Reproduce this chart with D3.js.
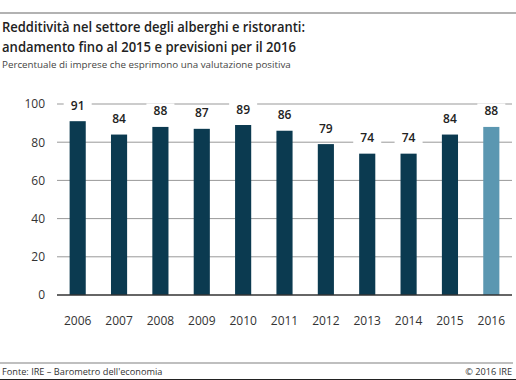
<!DOCTYPE html>
<html><head><meta charset="utf-8">
<script src="https://cdn.jsdelivr.net/npm/d3@7"></script>
<style>body{margin:0;background:#fff}svg{display:block}</style>
</head><body>
<svg id="c" width="516" height="380"></svg>
<script>
const years = ["2006","2007","2008","2009","2010","2011","2012","2013","2014","2015","2016"];
const values = [91,84,88,87,89,86,79,74,74,84,88];
const forecast = [false,false,false,false,false,false,false,false,false,false,true];
const yTicks = [0,20,40,60,80,100];
const title1 = "Redditività nel settore degli alberghi e ristoranti:";
const title2 = "andamento fino al 2015 e previsioni per il 2016";
const subtitle = "Percentuale di imprese che esprimono una valutazione positiva";
const source = "Fonte: IRE – Barometro dell'economia";
const copyright = "© 2016 IRE";

const svg = d3.select("#c");
const font = "'Open Sans', sans-serif";

svg.append("line").attr("x1",0).attr("x2",516).attr("y1",13).attr("y2",13).attr("stroke","#999").attr("stroke-width",1.5);
svg.append("text").attr("x",2).attr("y",32).text(title1).attr("font-family",font).attr("font-weight",600).attr("font-size",14.5).attr("fill","#222")
  .attr("textLength",303).attr("lengthAdjust","spacingAndGlyphs");
svg.append("text").attr("x",2).attr("y",52).text(title2).attr("font-family",font).attr("font-weight",600).attr("font-size",14.5).attr("fill","#222")
  .attr("textLength",294).attr("lengthAdjust","spacingAndGlyphs");
svg.append("text").attr("x",2).attr("y",68).text(subtitle).attr("font-family",font).attr("font-size",9.8).attr("fill","#444");

const x = d3.scaleBand().domain(years).range([57,512]).paddingInner(0.61).paddingOuter(0.305);
const y = d3.scaleLinear().domain([0,100]).range([295,104]);

const g = svg.append("g");
const yAxis = d3.axisLeft(y).tickValues(yTicks).tickSize(0).tickPadding(12);
const ya = g.append("g").attr("transform","translate(57,0)").call(yAxis);
ya.select(".domain").remove();
ya.selectAll("text").attr("font-family",font).attr("font-size",12).attr("fill","#333");

g.selectAll("line.grid").data(yTicks.filter(d=>d>0)).join("line").attr("class","grid")
 .attr("x1",57).attr("x2",512).attr("y1",d=>y(d)).attr("y2",d=>y(d)).attr("stroke","#999").attr("stroke-width",1);

g.selectAll("rect.bar").data(values).join("rect").attr("class","bar")
 .attr("x",(d,i)=>x(years[i])).attr("width",x.bandwidth())
 .attr("y",d=>y(d)).attr("height",d=>y(0)-y(d))
 .attr("fill",(d,i)=>forecast[i]?"#5b97b1":"#0b3a50");

g.append("line").attr("x1",57).attr("x2",512).attr("y1",y(0)).attr("y2",y(0)).attr("stroke","#333").attr("stroke-width",1.5);

const lbl = g.selectAll("g.lbl").data(values).join("g").attr("class","lbl")
 .attr("transform",(d,i)=>`translate(${x(years[i])+x.bandwidth()/2},${y(d)-11.5})`);
lbl.append("rect").attr("x",-14).attr("width",28).attr("y",-12).attr("height",16).attr("fill","#fff");
lbl.append("text").text(d=>d).attr("text-anchor","middle")
 .attr("font-family",font).attr("font-weight",600).attr("font-size",12).attr("fill","#222");

const xAxis = d3.axisBottom(x).tickSize(0).tickPadding(0);
const xa = g.append("g").attr("transform","translate(0,316.5)").call(xAxis);
xa.select(".domain").remove();
xa.selectAll("text").attr("font-family",font).attr("font-size",12).attr("fill","#333");

svg.append("line").attr("x1",0).attr("x2",513).attr("y1",363).attr("y2",363).attr("stroke","#aaa").attr("stroke-width",1.5);
svg.append("text").attr("x",2).attr("y",375).text(source).attr("font-family",font).attr("font-size",9.2).attr("fill","#333");
svg.append("text").attr("x",512).attr("y",375).attr("text-anchor","end").text(copyright).attr("font-family",font).attr("font-size",9.2).attr("fill","#333");
svg.append("line").attr("x1",0).attr("x2",516).attr("y1",379.5).attr("y2",379.5).attr("stroke","#222").attr("stroke-width",1);
</script>
</body></html>
